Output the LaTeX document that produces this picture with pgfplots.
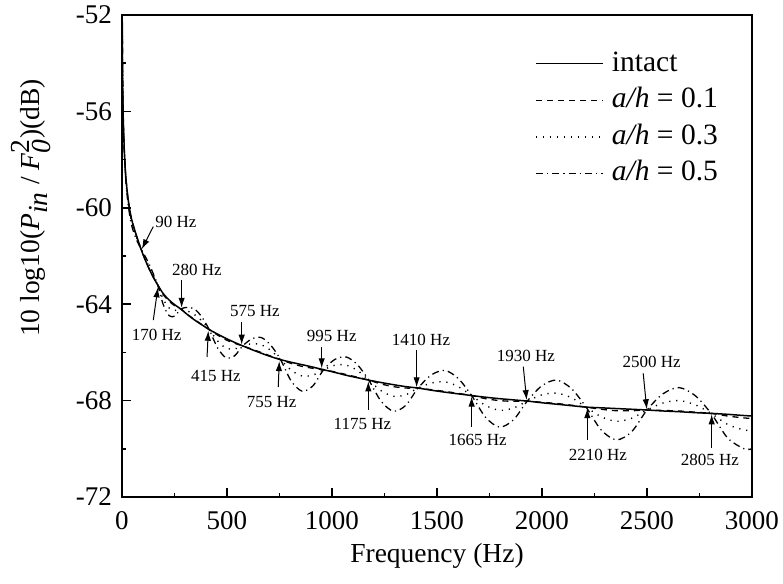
\documentclass[border=0pt]{standalone}
\usepackage{fontspec}
\setmainfont{Liberation Serif}
\usepackage{pgfplots}
\usepackage{pgfplotstable}
\pgfplotsset{compat=1.18}
\usetikzlibrary{arrows.meta}

\pgfplotstableread{
f intact r1 r3 r5
1 -52.00 -52.00 -52.00 -52.00
3 -54.60 -54.60 -54.61 -54.63
6 -56.30 -56.30 -56.32 -56.35
10 -57.40 -57.41 -57.43 -57.48
15 -58.30 -58.31 -58.35 -58.41
20 -58.90 -58.91 -58.96 -59.05
30 -59.70 -59.72 -59.79 -59.91
45 -60.45 -60.47 -60.55 -60.70
67 -61.10 -61.11 -61.17 -61.28
90 -61.70 -61.70 -61.70 -61.70
110 -62.15 -62.14 -62.09 -62.01
130 -62.55 -62.54 -62.47 -62.35
150 -62.90 -62.89 -62.84 -62.76
170 -63.20 -63.20 -63.20 -63.20
197 -63.57 -63.61 -63.80 -64.03
225 -63.83 -63.88 -64.16 -64.48
252 -64.03 -64.07 -64.26 -64.49
280 -64.20 -64.20 -64.20 -64.20
314 -64.45 -64.44 -64.29 -64.13
348 -64.67 -64.65 -64.45 -64.22
381 -64.86 -64.85 -64.70 -64.54
415 -65.05 -65.05 -65.05 -65.05
455 -65.24 -65.28 -65.52 -65.81
495 -65.42 -65.48 -65.82 -66.22
535 -65.58 -65.62 -65.86 -66.15
575 -65.73 -65.73 -65.73 -65.73
620 -65.89 -65.87 -65.64 -65.43
665 -66.04 -66.01 -65.69 -65.39
710 -66.18 -66.16 -65.93 -65.72
755 -66.30 -66.30 -66.30 -66.30
806 -66.41 -66.46 -66.74 -67.19
858 -66.51 -66.58 -66.98 -67.61
909 -66.61 -66.66 -66.94 -67.39
960 -66.72 -66.72 -66.72 -66.72
1014 -66.83 -66.81 -66.53 -66.29
1068 -66.95 -66.92 -66.53 -66.19
1121 -67.05 -67.03 -66.75 -66.51
1175 -67.15 -67.15 -67.15 -67.15
1234 -67.25 -67.31 -67.59 -68.03
1293 -67.34 -67.42 -67.82 -68.44
1351 -67.42 -67.48 -67.76 -68.20
1410 -67.48 -67.48 -67.48 -67.48
1474 -67.57 -67.55 -67.27 -66.93
1538 -67.65 -67.62 -67.22 -66.75
1601 -67.72 -67.70 -67.42 -67.08
1665 -67.79 -67.79 -67.79 -67.79
1731 -67.86 -67.92 -68.20 -68.69
1798 -67.92 -68.00 -68.40 -69.10
1864 -67.97 -68.03 -68.31 -68.80
1930 -68.02 -68.02 -68.02 -68.02
2000 -68.09 -68.07 -67.76 -67.38
2070 -68.15 -68.12 -67.69 -67.15
2140 -68.21 -68.19 -67.88 -67.50
2210 -68.27 -68.27 -68.27 -68.27
2282 -68.30 -68.36 -68.67 -69.22
2355 -68.33 -68.42 -68.86 -69.63
2428 -68.36 -68.42 -68.73 -69.28
2500 -68.39 -68.39 -68.39 -68.39
2576 -68.43 -68.41 -68.10 -67.72
2652 -68.46 -68.43 -68.00 -67.46
2729 -68.50 -68.48 -68.17 -67.79
2805 -68.53 -68.53 -68.53 -68.53
2884 -68.57 -68.64 -68.99 -69.55
2963 -68.62 -68.72 -69.22 -70.00
3000 -68.64 -68.74 -69.23 -70.00
}\data

\begin{document}
\begin{tikzpicture}
\path[use as bounding box] (-61pt,-43.5pt) rectangle (330.5pt,248.5pt);
\begin{axis}[
  scale only axis, width=315pt, height=241pt,
  xmin=0, xmax=3000, ymin=-72, ymax=-52,
  xtick={0,500,...,3000}, ytick={-72,-68,...,-52},
  minor x tick num=1, minor y tick num=1,
  tick pos=left, tick align=inside,
  major tick length=4.5pt, minor tick length=2pt,
  axis line style={line width=1pt},
  tick style={line width=0.8pt, black},
  /pgf/number format/assume math mode=true,
  /pgf/number format/1000 sep={},
  tick label style={font=\fontsize{13.5pt}{16pt}\selectfont},
  xticklabel style={yshift=-3.5pt},
  yticklabel style={xshift=-1.5pt},
  xlabel={Frequency (Hz)},
  ylabel={10 log10(\textit{P}$_{\textit{in}}$ / $\textit{F}_{\textit{0}}^{\textrm{2}}$)(dB)},
  xlabel style={at={(axis description cs:0.5,-0.1214)}, anchor=center, font=\fontsize{13.75pt}{16pt}\selectfont},
  ylabel style={at={(axis description cs:-0.1444,0.5996)}, anchor=center, font=\fontsize{13.75pt}{16pt}\selectfont},
  legend style={draw=none, fill=none, at={(axis description cs:0.6556,0.932)}, anchor=north west,
    font=\fontsize{14.75pt}{17pt}\selectfont, row sep=2.8pt, inner sep=0pt,
    nodes={inner sep=1pt, text height=10.5pt, text depth=3pt}},
  legend image code/.code={\draw[#1] (0pt,0pt) -- (33.5pt,0pt);},
  legend cell align=left,
]
\addplot[black, line width=0.75pt, smooth] table[x=f, y=intact] {\data};
\addlegendentry{\hspace{3pt}intact}
\addplot[black, line width=0.65pt, smooth, dash pattern=on 3pt off 2.5pt] table[x=f, y=r1] {\data};
\addlegendentry{\hspace{3pt}\textit{a/h} = 0.1}
\addplot[black, line width=0.7pt, smooth, dash pattern=on 0.6pt off 2.9pt] table[x=f, y=r3] {\data};
\addlegendentry{\hspace{3pt}\textit{a/h} = 0.3}
\addplot[black, line width=0.65pt, smooth, dash pattern=on 3.5pt off 2pt on 0.6pt off 2pt] table[x=f, y=r5] {\data};
\addlegendentry{\hspace{3pt}\textit{a/h} = 0.5}

\tikzset{ann/.style={font=\fontsize{8.5pt}{10pt}\selectfont, inner sep=0pt},
         arr/.style={-{Latex[length=5pt,width=3.2pt]}, line width=0.5pt}}
\node[ann] at (axis cs:257,-60.59) {90 Hz};
\draw[arr] (axis cs:149,-60.78) -- (axis cs:94,-61.72);
\node[ann] at (axis cs:357,-62.58) {280 Hz};
\draw[arr] (axis cs:284,-63.0) -- (axis cs:284,-64.15);
\node[ann] at (axis cs:165,-65.28) {170 Hz};
\draw[arr] (axis cs:149,-64.66) -- (axis cs:171,-63.3);
\node[ann] at (axis cs:447,-66.97) {415 Hz};
\draw[arr] (axis cs:405,-66.19) -- (axis cs:411,-65.1);
\node[ann] at (axis cs:633,-64.28) {575 Hz};
\draw[arr] (axis cs:570,-64.74) -- (axis cs:570,-65.68);
\node[ann] at (axis cs:713,-68.07) {755 Hz};
\draw[arr] (axis cs:744,-67.44) -- (axis cs:749,-66.36);
\node[ann] at (axis cs:999,-65.32) {995 Hz};
\draw[arr] (axis cs:951,-65.78) -- (axis cs:951,-66.66);
\node[ann] at (axis cs:1145,-68.98) {1175 Hz};
\draw[arr] (axis cs:1173,-68.39) -- (axis cs:1173,-67.2);
\node[ann] at (axis cs:1424,-65.49) {1410 Hz};
\draw[arr] (axis cs:1403,-65.9) -- (axis cs:1403,-67.45);
\node[ann] at (axis cs:1694,-69.63) {1665 Hz};
\draw[arr] (axis cs:1665,-69.08) -- (axis cs:1665,-67.83);
\node[ann] at (axis cs:1923,-66.15) {1930 Hz};
\draw[arr] (axis cs:1911,-66.59) -- (axis cs:1927,-67.98);
\node[ann] at (axis cs:2266,-70.26) {2210 Hz};
\draw[arr] (axis cs:2216,-69.63) -- (axis cs:2216,-68.31);
\node[ann] at (axis cs:2522,-66.41) {2500 Hz};
\draw[arr] (axis cs:2482,-66.87) -- (axis cs:2499,-68.36);
\node[ann] at (axis cs:2800,-70.46) {2805 Hz};
\draw[arr] (axis cs:2808,-69.98) -- (axis cs:2808,-68.57);
\end{axis}
\end{tikzpicture}
\end{document}
